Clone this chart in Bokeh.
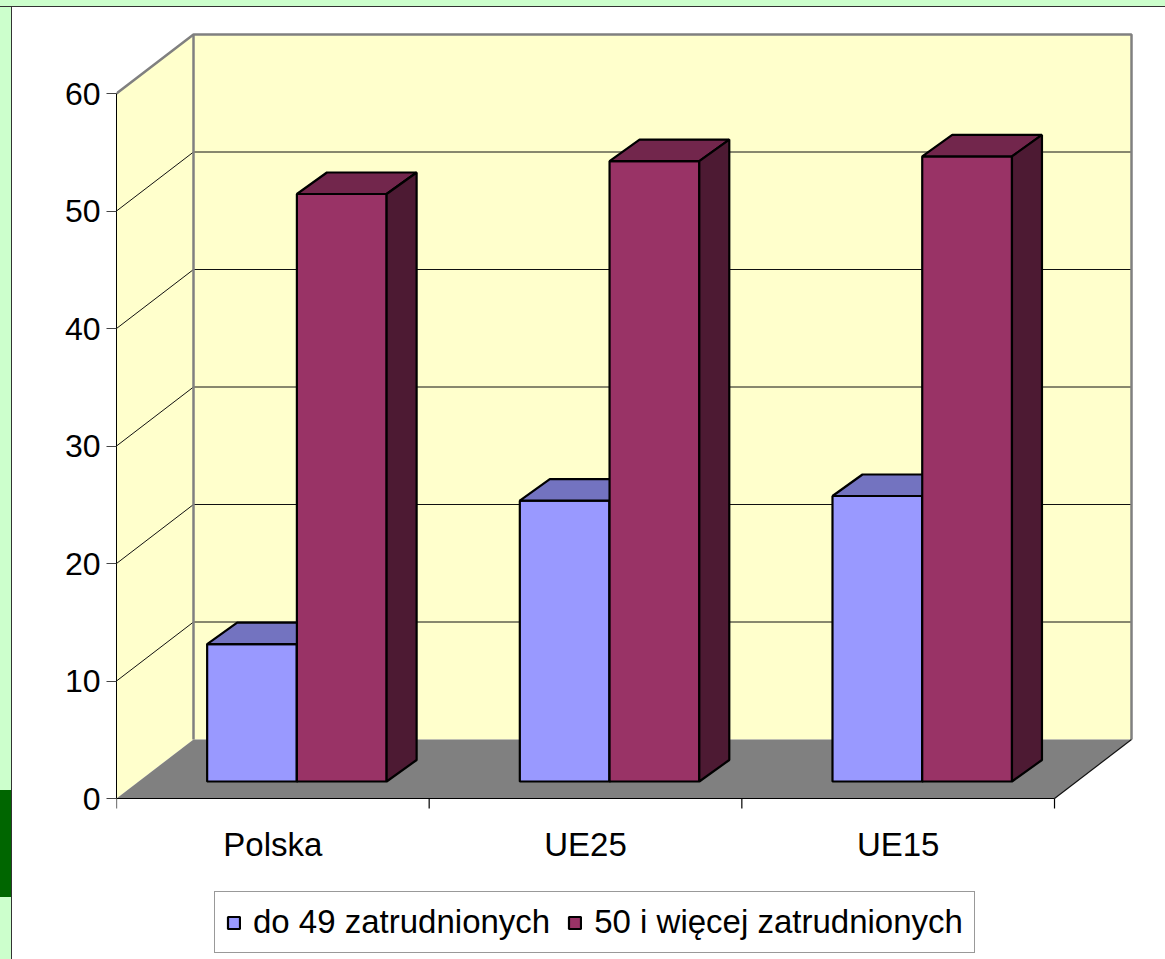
from bokeh.plotting import figure
from bokeh.models import Range1d, FixedTicker, Legend, LegendItem
from bokeh.embed import file_html
from bokeh.resources import INLINE
from bokeh.core.properties import value

# ---- data ----
categories = ["Polska", "UE25", "UE15"]
series_names = ["do 49 zatrudnionych", "50 i więcej zatrudnionych"]
small_firms = [11.7, 23.9, 24.3]
large_firms = [50.0, 52.8, 53.2]
y_ticks = [0, 10, 20, 30, 40, 50, 60]

# ---- geometry (pixels -> data units) ----
W, H = 1165, 959
LEFT = 116            # frame left (front axis)
ZERO_Y = 798          # pixel row of value 0 on the front axis
PX_X = 312.67         # px per category
PX_Y = 11.75          # px per value unit
x_end = (W - LEFT) / PX_X
y_start = (ZERO_Y - H) / PX_Y
y_end = ZERO_Y / PX_Y

DX = 77 / PX_X          # wall depth offset
DY = 59 / PX_Y
FX = 0.288 * DX         # bar front-face depth
FY = 0.288 * DY
BDX = 30 / PX_X         # bar depth
BDY = 21.5 / PX_Y
BAR_START = 0.219
BAR_W = 0.287
YMAX = y_ticks[-1]
n = len(categories)
FONT = "Liberation Sans"
LABEL_Y = -46 / PX_Y    # baseline of category labels
TICK_LEN = 10 / PX_Y

p = figure(width=W, height=H, x_range=Range1d(0, x_end), y_range=Range1d(y_start, y_end),
           output_backend="svg", toolbar_location=None, title=None, x_axis_location=None,
           min_border_left=LEFT, min_border_bottom=0, min_border_top=0, min_border_right=0,
           background_fill_alpha=0, border_fill_alpha=0, outline_line_color=None)
p.grid.visible = False
# slide background around the chart area (green margin, dark border line, green block)
p.styles = {
    "background-color": "white",
    "background-image": ("linear-gradient(#006600, #006600), "
                         "linear-gradient(to bottom, #CCFFCC 0px, #CCFFCC 6px, #333333 6px, #333333 7px, transparent 7px), "
                         "linear-gradient(to right, #CCFFCC 0px, #CCFFCC 11px, #333333 11px, #333333 12px, transparent 12px)"),
    "background-size": "11px 107px, 100% 100%, 100% 100%",
    "background-position": "0px 790px, 0px 0px, 0px 0px",
    "background-repeat": "no-repeat",
}

WALL = "#FFFFCC"
# back wall and side wall
p.patch([DX, n + DX, n + DX, DX], [DY, DY, YMAX + DY, YMAX + DY], fill_color=WALL, line_color=None)
p.patch([0, 0, DX, DX], [0, YMAX, YMAX + DY, DY], fill_color=WALL, line_color=None)

grid_vals = y_ticks[1:-1]
p.segment(x0=[DX] * len(grid_vals), y0=[v + DY for v in grid_vals],
          x1=[n + DX] * len(grid_vals), y1=[v + DY for v in grid_vals],
          line_color="#111111", line_width=1)
p.segment(x0=[0] * len(grid_vals), y0=grid_vals,
          x1=[DX] * len(grid_vals), y1=[v + DY for v in grid_vals],
          line_color="#111111", line_width=1)

# wall edges
p.line([0, DX, n + DX, n + DX], [YMAX, YMAX + DY, YMAX + DY, DY], line_color="#808080", line_width=2.5)
p.line([DX, DX], [DY, YMAX + DY], line_color="#808080", line_width=2.5)

# floor
p.patch([0, n, n + DX, DX], [0, 0, DY, DY], fill_color="#808080", line_color=None)
p.line([n, n + DX], [0, DY], line_color="#111111", line_width=1.2)
# front edge (category axis) and its ticks
p.line([0, n], [0, 0], line_color="black", line_width=1.2)
p.segment(x0=list(range(n + 1)), y0=[0] * (n + 1), x1=list(range(n + 1)), y1=[-TICK_LEN] * (n + 1),
          line_color="black", line_width=1.2)
p.text(x=[i + 0.5 for i in range(n)], y=[LABEL_Y] * n, text=categories,
       text_align="center", text_baseline="alphabetic",
       text_font=value(FONT), text_font_size="33px", text_color="black")


def bar_faces(values, k):
    fx, fy, tx, ty, sx, sy = [], [], [], [], [], []
    for i, v in enumerate(values):
        x0 = i + BAR_START + k * BAR_W + FX
        x1 = x0 + BAR_W
        b = FY
        t = FY + v
        fx.append([x0, x1, x1, x0]); fy.append([b, b, t, t])
        tx.append([x0, x1, x1 + BDX, x0 + BDX]); ty.append([t, t, t + BDY, t + BDY])
        sx.append([x1, x1 + BDX, x1 + BDX, x1]); sy.append([b, b + BDY, t + BDY, t])
    return (fx, fy), (tx, ty), (sx, sy)


colors = [("#9999FF", "#7373C0", "#4D4D80"), ("#993366", "#72264C", "#4D1A33")]
front_renderers = []
for k, vals in enumerate([small_firms, large_firms]):
    front, top, side = bar_faces(vals, k)
    cf, ct, cs = colors[k]
    r = p.patches(xs=front[0], ys=front[1], fill_color=cf, line_color="black", line_width=2.2)
    p.patches(xs=top[0], ys=top[1], fill_color=ct, line_color="black", line_width=2.2)
    p.patches(xs=side[0], ys=side[1], fill_color=cs, line_color="black", line_width=2.2)
    front_renderers.append(r)

# value axis
ya = p.yaxis[0]
ya.ticker = FixedTicker(ticks=y_ticks)
ya.bounds = (0, YMAX)
ya.major_tick_out = 10
ya.major_tick_in = 0
ya.minor_tick_out = 0
ya.minor_tick_in = 0
ya.major_tick_line_color = "#444444"
ya.axis_line_color = "black"
ya.major_label_standoff = 6
ya.major_label_text_font = FONT
ya.major_label_text_font_size = "32px"
ya.major_label_text_color = "black"

legend = Legend(items=[LegendItem(label=series_names[i], renderers=[front_renderers[i]]) for i in range(2)],
                orientation="horizontal", location=(98, 6),
                label_text_font=FONT, label_text_font_size="33px", label_text_color="black",
                glyph_width=15, glyph_height=15, label_standoff=12, spacing=17, padding=11,
                border_line_color="#333333", border_line_width=1, background_fill_color="white",
                background_fill_alpha=1.0, margin=0)
p.add_layout(legend)

open("out.html", "w").write(file_html(p, INLINE))
